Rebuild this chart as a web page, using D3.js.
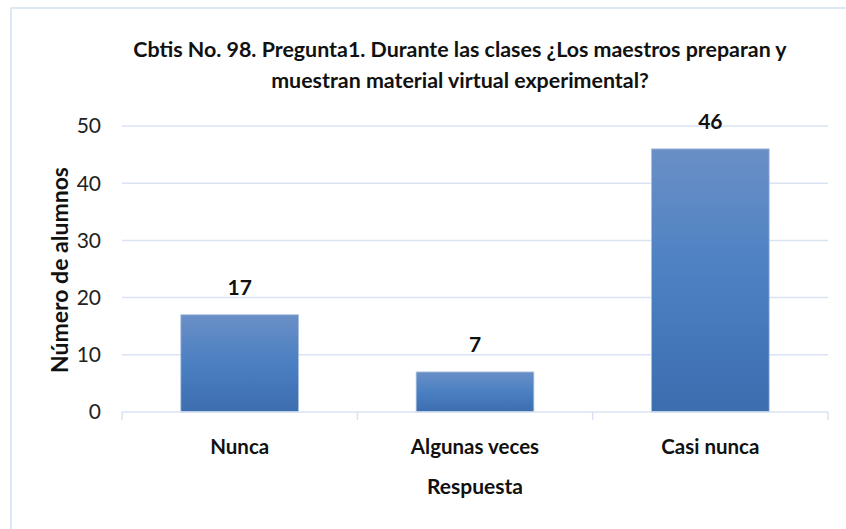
<!DOCTYPE html>
<html>
<head>
<meta charset="utf-8">
<script src="https://cdn.jsdelivr.net/npm/d3@7"></script>
<style>
  body { margin: 0; background: #fff; }
  text { font-family: Lato, "Open Sans", sans-serif; }
</style>
</head>
<body>
<div id="chart"></div>
<script>
// data
const categories = ["Nunca", "Algunas veces", "Casi nunca"];
const values = [17, 7, 46];
const yTicks = [0, 10, 20, 30, 40, 50];
const titleLines = ["Cbtis No. 98. Pregunta1. Durante las clases ¿Los maestros preparan y",
                    "muestran material virtual experimental?"];

const W = 846, H = 529;
const plot = {left: 122, right: 828, top: 126, bottom: 412};

const svg = d3.select("#chart").append("svg")
    .attr("width", W).attr("height", H);

// frame (only top and left edges visible)
svg.append("line").attr("x1", 11).attr("x2", W).attr("y1", 8).attr("y2", 8)
    .attr("stroke", "#dde7f5").attr("stroke-width", 2);
svg.append("line").attr("x1", 11).attr("x2", 11).attr("y1", 8).attr("y2", H)
    .attr("stroke", "#dde7f5").attr("stroke-width", 2);

const x = d3.scaleBand()
    .domain(categories)
    .range([plot.left, plot.right])
    .paddingInner(0.5)
    .paddingOuter(0.25);

const y = d3.scaleLinear()
    .domain([0, 50])
    .range([plot.bottom, plot.top]);

// gradient for bars
const grad = svg.append("defs").append("linearGradient")
    .attr("id", "barGrad").attr("x1", 0).attr("y1", 0).attr("x2", 0).attr("y2", 1);
grad.append("stop").attr("offset", "0%").attr("stop-color", "#6a8fc6");
grad.append("stop").attr("offset", "50%").attr("stop-color", "#4a80c2");
grad.append("stop").attr("offset", "100%").attr("stop-color", "#3c6daf");

// gridlines
svg.append("g")
    .selectAll("line")
    .data(yTicks.filter(d => d > 0))
    .join("line")
    .attr("x1", plot.left).attr("x2", plot.right)
    .attr("y1", d => y(d)).attr("y2", d => y(d))
    .attr("stroke", "#d9e3f3").attr("stroke-width", 1.5);

// y axis labels
svg.append("g")
    .selectAll("text")
    .data(yTicks)
    .join("text")
    .attr("x", 101)
    .attr("y", d => y(d))
    .attr("dy", "0.35em")
    .attr("text-anchor", "end")
    .style("font-size", "21px")
    .attr("fill", "#222")
    .text(d => d);

// bars
svg.append("g")
    .selectAll("rect")
    .data(values)
    .join("rect")
    .attr("x", (d, i) => x(categories[i]))
    .attr("y", d => y(d))
    .attr("width", x.bandwidth())
    .attr("height", d => y(0) - y(d))
    .attr("fill", "url(#barGrad)")
    .attr("stroke", "#a9bfe0")
    .attr("stroke-width", 0.8);

// x axis line + ticks at band boundaries
svg.append("line")
    .attr("x1", plot.left).attr("x2", plot.right)
    .attr("y1", plot.bottom).attr("y2", plot.bottom)
    .attr("stroke", "#d9e3f3").attr("stroke-width", 1.5);
const boundaries = d3.range(categories.length + 1).map(i => plot.left + i * (plot.right - plot.left) / categories.length);
svg.append("g")
    .selectAll("line")
    .data(boundaries)
    .join("line")
    .attr("x1", d => d).attr("x2", d => d)
    .attr("y1", plot.bottom).attr("y2", plot.bottom + 8)
    .attr("stroke", "#d9e3f3").attr("stroke-width", 1.5);

// value labels
svg.append("g")
    .selectAll("text")
    .data(values)
    .join("text")
    .attr("x", (d, i) => x(categories[i]) + x.bandwidth() / 2)
    .attr("y", d => y(d) - 27)
    .attr("dy", "0.35em")
    .attr("text-anchor", "middle")
    .style("font-size", "21px")
    .style("font-weight", "bold")
    .attr("fill", "#111")
    .text(d => d);

// category labels
svg.append("g")
    .selectAll("text")
    .data(categories)
    .join("text")
    .attr("x", d => x(d) + x.bandwidth() / 2)
    .attr("y", 447)
    .attr("dy", "0.35em")
    .attr("text-anchor", "middle")
    .style("font-size", "20.5px")
    .style("font-weight", "bold")
    .attr("fill", "#111")
    .text(d => d);

// axis titles
svg.append("text")
    .attr("x", 475).attr("y", 487).attr("dy", "0.35em")
    .attr("text-anchor", "middle")
    .style("font-size", "21px").style("font-weight", "bold")
    .attr("fill", "#111")
    .text("Respuesta");

svg.append("text")
    .attr("transform", "translate(60,270) rotate(-90)")
    .attr("dy", "0.35em")
    .attr("text-anchor", "middle")
    .style("font-size", "23px").style("font-weight", "bold")
    .attr("fill", "#111")
    .text("Número de alumnos");

// title
svg.append("g")
    .selectAll("text")
    .data(titleLines)
    .join("text")
    .attr("x", 460)
    .attr("y", (d, i) => 50 + i * 31)
    .attr("dy", "0.35em")
    .attr("text-anchor", "middle")
    .style("font-size", "21.4px")
    .style("font-weight", "bold")
    .attr("fill", "#111")
    .text(d => d);
</script>
</body>
</html>
